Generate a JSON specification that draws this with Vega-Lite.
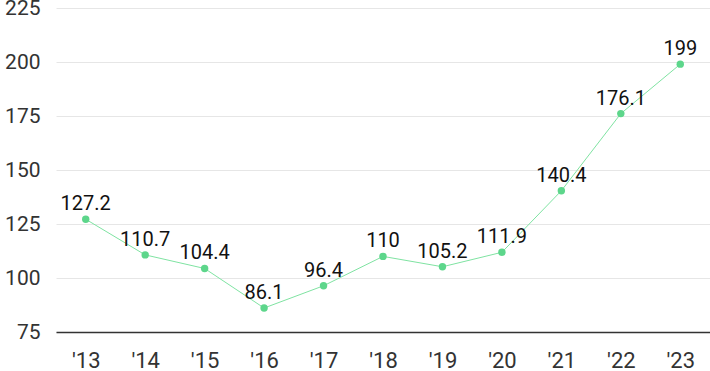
{
  "$schema": "https://vega.github.io/schema/vega-lite/v6.json",
  "width": 654,
  "height": 324,
  "autosize": {"type": "none"},
  "padding": {"left": 56, "top": 8, "right": 0, "bottom": 39},
  "background": "white",
  "config": {"view": {"stroke": null}, "font": "Roboto"},
  "data": {"values": [
    {"year": "'13", "value": 127.2},
    {"year": "'14", "value": 110.7},
    {"year": "'15", "value": 104.4},
    {"year": "'16", "value": 86.1},
    {"year": "'17", "value": 96.4},
    {"year": "'18", "value": 110},
    {"year": "'19", "value": 105.2},
    {"year": "'20", "value": 111.9},
    {"year": "'21", "value": 140.4},
    {"year": "'22", "value": 176.1},
    {"year": "'23", "value": 199}
  ]},
  "encoding": {
    "x": {"field": "year", "type": "ordinal", "sort": null,
      "scale": {"type": "point", "padding": 0.5},
      "axis": {"title": null, "labelAngle": 0, "labelFontSize": 22, "labelColor": "#333333", "labelPadding": 18, "ticks": false, "domainColor": "#333333", "domainWidth": 1.5, "grid": false}},
    "y": {"field": "value", "type": "quantitative",
      "scale": {"domain": [75, 225], "nice": false, "zero": false},
      "axis": {"title": null, "values": [75, 100, 125, 150, 175, 200, 225], "labelFontSize": 21, "labelColor": "#333333", "labelPadding": 16, "ticks": false, "domain": false, "gridColor": "#e6e6e6", "gridWidth": 1}}
  },
  "layer": [
    {"mark": {"type": "line", "color": "#7fe3a2", "strokeWidth": 1}},
    {"mark": {"type": "point", "filled": true, "color": "#5dd68b", "size": 55, "opacity": 1}},
    {"mark": {"type": "text", "dy": -15, "fontSize": 20, "color": "#111111"},
      "encoding": {"text": {"field": "value", "type": "quantitative"}}}
  ]
}
